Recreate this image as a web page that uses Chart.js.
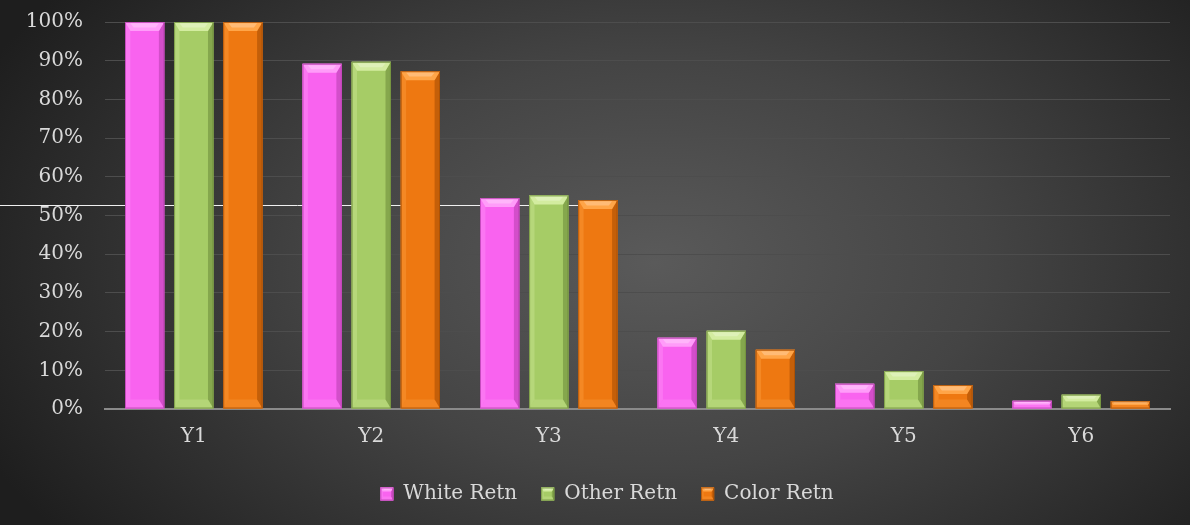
<!DOCTYPE html>
<html>
<head>
<meta charset="utf-8">
<script src="https://cdn.jsdelivr.net/npm/chart.js@4/dist/chart.umd.min.js"></script>
<style>
  html, body { margin: 0; padding: 0; background: #2a2a2a; }
  #wrap { width: 1190px; height: 525px; position: relative; }
</style>
</head>
<body>
<div id="wrap"><canvas id="chart" width="1190" height="525"></canvas></div>
<script>
const categories = ['Y1', 'Y2', 'Y3', 'Y4', 'Y5', 'Y6'];
const whiteRetn = [100, 89.2, 54.5, 18.4, 6.5, 2.1];
const otherRetn = [100, 89.7, 55.2, 20.2, 9.8, 3.7];
const colorRetn = [100, 87.3, 54.0, 15.3, 6.2, 2.0];
const yTicks = [0, 10, 20, 30, 40, 50, 60, 70, 80, 90, 100];

const FONT = "'DejaVu Serif', serif";
const TEXT = '#d9d9d9';

// face, light bevel, dark edge
const palette = {
  pink:   ['#f963ef', '#ff9cf9', '#b941b0'],
  green:  ['#a6cc66', '#d3eca0', '#6f8e3c'],
  orange: ['#ee7811', '#ffa548', '#a84f05']
};

// dark radial backdrop
const backdrop = {
  id: 'backdrop',
  afterLayout(chart) {
    // legend sits a little right of centre and higher in the original
    if (chart.legend) {
      chart.legend.left += 22;
      chart.legend.right += 22;
      chart.legend.top -= 5;
      chart.legend.bottom -= 5;
    }
  },
  beforeDraw(chart) {
    const { ctx, width, height } = chart;
    ctx.save();
    ctx.fillStyle = '#1e1e1e';
    ctx.fillRect(0, 0, width, height);
    ctx.translate(width * 0.55, height * 0.5);
    ctx.scale(1, 0.62);
    const g = ctx.createRadialGradient(0, 0, 0, 0, 0, width * 0.62);
    g.addColorStop(0, '#5a5a5a');
    g.addColorStop(0.45, '#444444');
    g.addColorStop(1, '#1e1e1e');
    ctx.fillStyle = g;
    ctx.fillRect(-width, -height * 2, width * 2, height * 4);
    ctx.restore();
  },
  beforeDatasetsDraw(chart) {
    // stray white rule seen in the original image
    const { ctx } = chart;
    ctx.save();
    ctx.strokeStyle = '#f0f0f0';
    ctx.lineWidth = 1;
    ctx.beginPath();
    ctx.moveTo(0, 205.5);
    ctx.lineTo(595, 205.5);
    ctx.stroke();
    ctx.restore();
  }
};

function poly(ctx, pts, color, alpha) {
  ctx.globalAlpha = alpha;
  ctx.fillStyle = color;
  ctx.beginPath();
  ctx.moveTo(pts[0][0], pts[0][1]);
  for (let i = 1; i < pts.length; i++) ctx.lineTo(pts[i][0], pts[i][1]);
  ctx.closePath();
  ctx.fill();
  ctx.globalAlpha = 1;
}

function bevelRect(ctx, l, t, r, b, cols, bev) {
  ctx.fillStyle = cols[0];
  ctx.fillRect(l, t, r - l, b - t);
  const k = Math.min(bev, (b - t) / 2);
  const s = k * 0.6;
  // left edge, slightly lighter
  poly(ctx, [[l, t], [l + s, t + k], [l + s, b - k], [l, b]], cols[1], 0.35);
  // right edge, darker
  poly(ctx, [[r, t], [r, b], [r - s, b - k], [r - s, t + k]], cols[2], 0.6);
  // bottom bevel
  poly(ctx, [[l, b], [r, b], [r - s, b - k], [l + s, b - k]], cols[1], 0.3);
  // top bevel
  poly(ctx, [[l, t], [r, t], [r - s, t + k], [l + s, t + k]], cols[1], 1);
  poly(ctx, [[l + s, t + k * 0.15], [r - s, t + k * 0.15], [r - s * 1.6, t + k * 0.6], [l + s * 1.6, t + k * 0.6]], '#ffffff', 0.25);
  ctx.strokeStyle = cols[2];
  ctx.lineWidth = 1;
  ctx.globalAlpha = 0.8;
  ctx.strokeRect(l + 0.5, t + 0.5, r - l - 1, b - t - 1);
  ctx.globalAlpha = 1;
}

const bevels = {
  id: 'bevels',
  afterDatasetsDraw(chart) {
    const { ctx } = chart;
    ctx.save();
    chart.data.datasets.forEach((ds, i) => {
      const meta = chart.getDatasetMeta(i);
      if (meta.hidden) return;
      meta.data.forEach(bar => {
        const w = bar.width;
        bevelRect(ctx, bar.x - w / 2, bar.y, bar.x + w / 2, bar.base, ds.bevel, 9);
      });
    });
    ctx.restore();
  },
  afterDraw(chart) {
    // bevelled legend boxes
    const { ctx } = chart;
    const legend = chart.legend;
    if (!legend || !legend.legendHitBoxes) return;
    ctx.save();
    legend.legendHitBoxes.forEach((box, i) => {
      const ds = chart.data.datasets[i];
      const s = 13;
      const l = box.left;
      const t = box.top + (box.height - s) / 2;
      bevelRect(ctx, l, t, l + s, t + s, ds.bevel, 4);
    });
    ctx.restore();
  }
};

new Chart(document.getElementById('chart'), {
  type: 'bar',
  data: {
    labels: categories,
    datasets: [
      { label: 'White Retn', data: whiteRetn, backgroundColor: palette.pink[0], bevel: palette.pink },
      { label: 'Other Retn', data: otherRetn, backgroundColor: palette.green[0], bevel: palette.green },
      { label: 'Color Retn', data: colorRetn, backgroundColor: palette.orange[0], bevel: palette.orange }
    ]
  },
  options: {
    responsive: false,
    animation: false,
    devicePixelRatio: 1,
    layout: { padding: { top: 22, right: 20, bottom: 6, left: 0 } },
    datasets: { bar: { barPercentage: 0.8, categoryPercentage: 0.83 } },
    plugins: {
      legend: {
        position: 'bottom',
        labels: {
          color: TEXT,
          font: { family: FONT, size: 20 },
          boxWidth: 13,
          boxHeight: 13,
          padding: 24
        }
      },
      tooltip: { enabled: false }
    },
    scales: {
      x: {
        grid: { display: false, drawTicks: false },
        border: { color: '#8a8a8a', width: 2 },
        ticks: { color: TEXT, font: { family: FONT, size: 20 }, padding: 16 }
      },
      y: {
        min: 0,
        max: 100,
        afterBuildTicks(scale) { scale.ticks = yTicks.map(v => ({ value: v })); },
        afterFit(scale) {
          scale.width = 105;
          scale.paddingTop = 0;
          scale.paddingBottom = 0;
        },
        grid: { color: '#4d4d4d', lineWidth: 1, drawTicks: false },
        border: { display: false },
        ticks: {
          color: TEXT,
          font: { family: FONT, size: 20 },
          padding: 22,
          callback: v => v + '%'
        }
      }
    }
  },
  plugins: [backdrop, bevels]
});
</script>
</body>
</html>
